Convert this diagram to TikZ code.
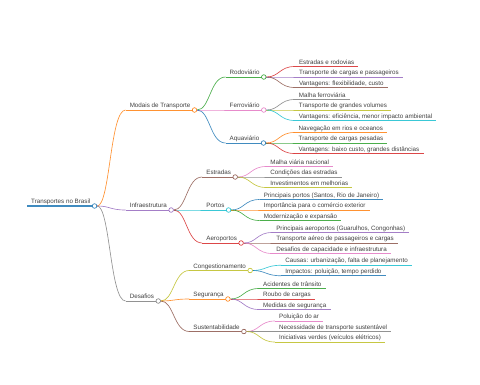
\documentclass[tikz,border=0pt]{standalone}
\usepackage{fontspec}
\setmainfont{Liberation Sans}
\usepackage{xcolor}
\usepackage{tikz}
\usetikzlibrary{positioning, calc, backgrounds}

\definecolor{mmblue}{HTML}{1F77B4}
\definecolor{mmorange}{HTML}{FF7F0E}
\definecolor{mmgreen}{HTML}{2CA02C}
\definecolor{mmred}{HTML}{D62728}
\definecolor{mmpurple}{HTML}{9467BD}
\definecolor{mmbrown}{HTML}{8C564B}
\definecolor{mmpink}{HTML}{E377C2}
\definecolor{mmgray}{HTML}{7F7F7F}
\definecolor{mmolive}{HTML}{BCBD22}
\definecolor{mmcyan}{HTML}{17BECF}

\begin{document}
\begin{tikzpicture}[
    x=1pt, y=-1pt,
    font=\fontsize{6.25}{7.5}\selectfont,
    topic/.style={anchor=south west, inner xsep=4pt, inner ysep=0.7pt,
                  text depth=1.5pt, text=black!75,
                  append after command={(\tikzlastnode.south west)
                      edge[draw=#1] (\tikzlastnode.south east)}},
    knot/.style={circle, draw=#1, fill=white, line width=0.6pt,
                 inner sep=0pt, minimum size=4.6pt},
    link/.style={draw=#1, line width=0.65pt, draw opacity=0.85,
                 to path={let \p1=(\tikztostart), \p2=(\tikztotarget) in
                   .. controls ({(\x1+\x2)/2},\y1) and ({(\x1+\x2)/2},\y2)
                   .. (\tikztotarget)}},
    every edge/.append style={line width=0.65pt, draw opacity=0.85},
]
\useasboundingbox (0,0) rectangle (480,384);

%% Root
\begin{scope}[every edge/.append style={line width=1.4pt}]
  \node[topic=mmblue] (root) at (27,206) {Transportes no Brasil};
\end{scope}
\node[knot=mmblue] (rootc) at (root.south east) {};

%% First level
\node[topic=mmorange] (mod) at ($(rootc)+(31,-96)$) {Modais de Transporte};
\node[knot=mmorange] (modc) at (mod.south east) {};
\node[topic=mmpurple] (inf) at ($(rootc)+(31,4)$) {Infraestrutura};
\node[knot=mmpurple] (infc) at (inf.south east) {};
\node[topic=mmgray] (des) at ($(rootc)+(31,95)$) {Desafios};
\node[knot=mmgray] (desc) at (des.south east) {};

%% Second level
\node[topic=mmgreen] (rod) at ($(modc)+(31,-33)$) {Rodoviário};
\node[knot=mmgreen] (rodc) at (rod.south east) {};
\node[topic=mmpink] (fer) at ($(modc)+(31,0)$) {Ferroviário};
\node[knot=mmpink] (ferc) at (fer.south east) {};
\node[topic=mmblue] (aqu) at ($(modc)+(31,33)$) {Aquaviário};
\node[knot=mmblue] (aquc) at (aqu.south east) {};

\node[topic=mmbrown] (est) at ($(infc)+(31,-33)$) {Estradas};
\node[knot=mmbrown] (estc) at (est.south east) {};
\node[topic=mmcyan] (por) at ($(infc)+(31,0)$) {Portos};
\node[knot=mmcyan] (porc) at (por.south east) {};
\node[topic=mmred] (aer) at ($(infc)+(31,33)$) {Aeroportos};
\node[knot=mmred] (aerc) at (aer.south east) {};

\node[topic=mmolive] (con) at ($(desc)+(31,-30.5)$) {Congestionamento};
\node[knot=mmolive] (conc) at (con.south east) {};
\node[topic=mmorange] (seg) at ($(desc)+(31,-2)$) {Segurança};
\node[knot=mmorange] (segc) at (seg.south east) {};
\node[topic=mmbrown] (sus) at ($(desc)+(31,30.5)$) {Sustentabilidade};
\node[knot=mmbrown] (susc) at (sus.south east) {};

%% Links to inner topics
\begin{scope}[on background layer]
  \foreach \src/\dst/\col in {rootc/mod/mmorange, rootc/inf/mmpurple,
      rootc/des/mmgray, modc/rod/mmgreen, modc/fer/mmpink, modc/aqu/mmblue,
      infc/est/mmbrown, infc/por/mmcyan, infc/aer/mmred,
      desc/con/mmolive, desc/seg/mmorange, desc/sus/mmbrown}
    \draw[link=\col] (\src) to (\dst.south west);
\end{scope}

%% Leaves
\foreach \src/\col/\dy/\txt in {
    rodc/mmred/-10.5/Estradas e rodovias,
    rodc/mmpurple/0/Transporte de cargas e passageiros,
    rodc/mmbrown/10.5/{Vantagens: flexibilidade, custo},
    ferc/mmgray/-10.5/Malha ferroviária,
    ferc/mmolive/0/Transporte de grandes volumes,
    ferc/mmcyan/10.5/{Vantagens: eficiência, menor impacto ambiental},
    aquc/mmorange/-10.5/Navegação em rios e oceanos,
    aquc/mmgreen/0/Transporte de cargas pesadas,
    aquc/mmred/10.5/{Vantagens: baixo custo, grandes distâncias},
    estc/mmpink/-10.5/Malha viária nacional,
    estc/mmgray/0/Condições das estradas,
    estc/mmolive/10.5/Investimentos em melhorias,
    porc/mmblue/-10.5/{Principais portos (Santos, Rio de Janeiro)},
    porc/mmorange/0/Importância para o comércio exterior,
    porc/mmgreen/10.5/Modernização e expansão,
    aerc/mmpurple/-10.5/{Principais aeroportos (Guarulhos, Congonhas)},
    aerc/mmbrown/0/Transporte aéreo de passageiros e cargas,
    aerc/mmpink/10.5/Desafios de capacidade e infraestrutura,
    conc/mmcyan/-5.25/{Causas: urbanização, falta de planejamento},
    conc/mmblue/5.25/{Impactos: poluição, tempo perdido},
    segc/mmgreen/-10.5/Acidentes de trânsito,
    segc/mmred/0/Roubo de cargas,
    segc/mmpurple/10.5/Medidas de segurança,
    susc/mmpink/-10.5/Poluição do ar,
    susc/mmgray/0/Necessidade de transporte sustentável,
    susc/mmolive/10.5/{Iniciativas verdes (veículos elétricos)}} {
  \node[topic=\col] (leaf) at ($(\src)+(31,\dy)$) {\txt};
  \begin{scope}[on background layer]
    \draw[link=\col] (\src) to (leaf.south west);
  \end{scope}
}
\end{tikzpicture}
\end{document}
